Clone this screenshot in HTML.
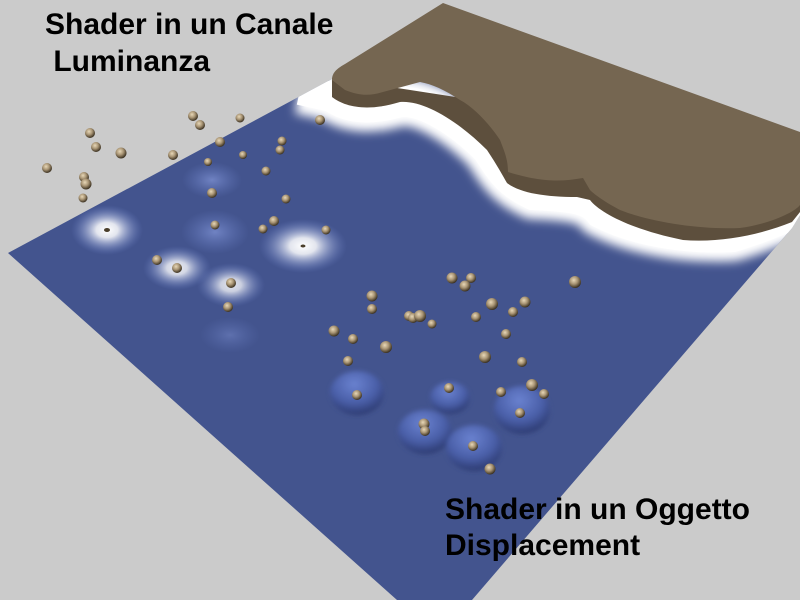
<!DOCTYPE html>
<html><head><style>
html,body{margin:0;padding:0;width:800px;height:600px;overflow:hidden;background:#cbcbcb}
svg{position:absolute;left:0;top:0}
.t{position:absolute;font-family:"Liberation Sans",Arial,sans-serif;font-weight:bold;font-size:30px;color:#000;line-height:35px;white-space:pre}
</style></head><body>
<svg width="800" height="600" viewBox="0 0 800 600">
<defs>
<radialGradient id="sp" cx="0.4" cy="0.35" r="0.65">
<stop offset="0" stop-color="#e8d8b8"/><stop offset="0.5" stop-color="#a89474"/><stop offset="1" stop-color="#3a3020"/>
</radialGradient>
<radialGradient id="gw" cx="0.5" cy="0.5" r="0.5">
<stop offset="0" stop-color="#ffffff" stop-opacity="1"/><stop offset="0.3" stop-color="#ffffff" stop-opacity="0.85"/><stop offset="1" stop-color="#6f86d0" stop-opacity="0"/>
</radialGradient>
<radialGradient id="gf" cx="0.5" cy="0.5" r="0.5">
<stop offset="0" stop-color="#8ea2e6" stop-opacity="0.6"/><stop offset="1" stop-color="#6f86d0" stop-opacity="0"/>
</radialGradient>
<radialGradient id="bump" cx="0.45" cy="0.3" r="0.7">
<stop offset="0" stop-color="#6a82d0"/><stop offset="0.6" stop-color="#4a5fa8"/><stop offset="1" stop-color="#2c3a70"/>
</radialGradient>
<filter id="bl" x="-20%" y="-50%" width="140%" height="200%"><feGaussianBlur stdDeviation="5"/></filter>
<filter id="bl2"><feGaussianBlur stdDeviation="2"/></filter>
<clipPath id="pl"><polygon points="8,253 440,21 780,160 800,200 800,215 792,228 472,600 397,600"/></clipPath>
</defs>
<polygon points="8,253 440,21 780,160 800,200 800,215 792,228 472,600 397,600" fill="#43548e"/>
<g clip-path="url(#pl)">
<path d="M300,90 L332,97 C345,107 367,112 400,102 C423,100 457,120 487,150 C500,170 507,183 533,195 C577,197 590,200 600,213 C633,230 683,240 733,237 C780,223 800,210 820,200" fill="none" stroke="#fff" stroke-width="48" filter="url(#bl)"/>
<path d="M300,90 L332,97 C345,107 367,112 400,102 C423,100 457,120 487,150 C500,170 507,183 533,195 C577,197 590,200 600,213 C633,230 683,240 733,237 C780,223 800,210 820,200" fill="none" stroke="#fff" stroke-width="30"/>
</g>
<path d="M332,78 L332,97 C345,107 367,112 400,102 C423,100 457,120 487,150 C497,165 503,176 507,183 C520,193 545,197 577,197 L590,200 C600,213 633,230 683,240 C720,243 760,235 792,222 L800,212 L800,150 Z" fill="#5d4f3d"/>
<path d="M332,80 C332,72 338,68 345,64 L443,3 L800,132 L800,205 C795,212 770,224 740,228 C700,230 650,222 620,210 C605,202 595,195 590,190 L583,178 C560,182 540,182 508,172 C508,160 505,153 500,140 C490,125 475,108 460,100 C445,90 432,84 420,82 L383,92 C370,96 360,96 345,90 Z" fill="#756651"/>
<ellipse cx="107" cy="230" rx="36" ry="25" fill="url(#gw)"/>
<ellipse cx="303" cy="246" rx="44" ry="27" fill="url(#gw)"/>
<ellipse cx="177" cy="268" rx="34" ry="22" fill="url(#gw)" opacity="0.9"/>
<ellipse cx="231" cy="285" rx="34" ry="22" fill="url(#gw)" opacity="0.85"/>
<ellipse cx="215" cy="232" rx="34" ry="22" fill="url(#gf)"/>
<ellipse cx="212" cy="180" rx="30" ry="18" fill="url(#gf)"/>
<ellipse cx="230" cy="335" rx="30" ry="18" fill="url(#gf)" opacity="0.6"/>
<g filter="url(#bl2)">
<ellipse cx="357" cy="393" rx="27" ry="22" fill="url(#bump)"/>
<ellipse cx="450" cy="398" rx="20" ry="16" fill="url(#bump)"/>
<ellipse cx="425" cy="432" rx="27" ry="22" fill="url(#bump)"/>
<ellipse cx="474" cy="448" rx="28" ry="23" fill="url(#bump)"/>
<ellipse cx="522" cy="410" rx="28" ry="24" fill="url(#bump)"/>
</g>
<g fill="url(#sp)">
<circle cx="90" cy="133" r="5"/><circle cx="96" cy="147" r="5"/><circle cx="121" cy="153" r="5.5"/><circle cx="47" cy="168" r="5"/><circle cx="84" cy="177" r="5"/><circle cx="86" cy="184" r="5.5"/><circle cx="83" cy="198" r="4.5"/><circle cx="173" cy="155" r="5"/><circle cx="193" cy="116" r="5"/><circle cx="200" cy="125" r="5"/><circle cx="240" cy="118" r="4.5"/>
<circle cx="320" cy="120" r="5"/><circle cx="220" cy="142" r="5"/><circle cx="208" cy="162" r="4"/><circle cx="243" cy="155" r="4"/><circle cx="282" cy="141" r="4.5"/><circle cx="280" cy="150" r="4.5"/><circle cx="266" cy="171" r="4.5"/><circle cx="212" cy="193" r="5"/><circle cx="286" cy="199" r="4.5"/><circle cx="215" cy="225" r="4.5"/><circle cx="263" cy="229" r="4.5"/><circle cx="274" cy="221" r="5"/><circle cx="326" cy="230" r="4.5"/><circle cx="157" cy="260" r="5"/><circle cx="177" cy="268" r="5"/><circle cx="231" cy="283" r="5"/><circle cx="228" cy="307" r="5"/>
<circle cx="452" cy="278" r="5.5"/><circle cx="471" cy="278" r="5"/><circle cx="465" cy="286" r="5.5"/><circle cx="575" cy="282" r="6"/><circle cx="372" cy="296" r="5.5"/><circle cx="372" cy="309" r="5"/><circle cx="409" cy="316" r="5"/><circle cx="413" cy="318" r="5"/><circle cx="420" cy="316" r="6"/><circle cx="432" cy="324" r="4.5"/><circle cx="492" cy="304" r="6"/><circle cx="476" cy="317" r="5"/><circle cx="513" cy="312" r="5"/><circle cx="525" cy="302" r="5.5"/><circle cx="334" cy="331" r="5.5"/><circle cx="353" cy="339" r="5"/><circle cx="386" cy="347" r="6"/><circle cx="348" cy="361" r="5"/><circle cx="506" cy="334" r="5"/><circle cx="485" cy="357" r="6"/><circle cx="522" cy="362" r="5"/><circle cx="449" cy="388" r="5"/><circle cx="501" cy="392" r="5"/><circle cx="532" cy="385" r="6"/><circle cx="544" cy="394" r="5"/><circle cx="357" cy="395" r="5"/><circle cx="520" cy="413" r="5"/><circle cx="424" cy="424" r="5.5"/><circle cx="425" cy="431" r="5"/><circle cx="473" cy="446" r="5"/><circle cx="490" cy="469" r="5.5"/>
</g>
<ellipse cx="107" cy="230" rx="3" ry="2" fill="#4a3e2c"/>
<ellipse cx="303" cy="246" rx="2.5" ry="1.5" fill="#4a3e2c"/>
</svg>
<div class="t" style="left:45px;top:7px">Shader in un Canale</div>
<div class="t" style="left:45px;top:44px"> Luminanza</div>
<div class="t" style="left:445px;top:492px">Shader in un Oggetto</div>
<div class="t" style="left:445px;top:528px">Displacement</div>
</body></html>
